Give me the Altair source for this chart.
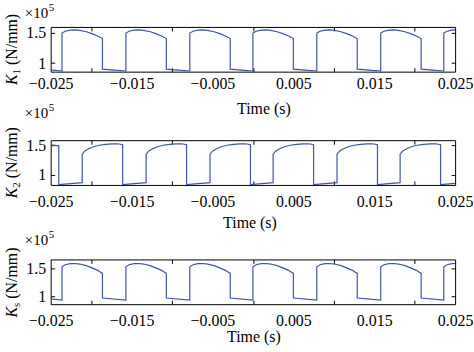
import altair as alt
import pandas as pd

SERIF = "Liberation Serif"
BLUE = "#3c55a5"

# ---- tick values ----
X_ALL = [-0.025, -0.02, -0.015, -0.01, -0.005, 0.0, 0.005, 0.01, 0.015, 0.02, 0.025]
X_MAJOR = [-0.02, -0.01, 0.0, 0.01, 0.02]
Y_TICKS = [1, 1.5]

# ---- K1 (x1e5 N/mm) ----
k1_t = [
    -0.0250,
    -0.0236, -0.0236, -0.0232, -0.0226, -0.0220, -0.0214, -0.0206, -0.0199, -0.0192, -0.0186, -0.0186,
    -0.0157, -0.0157, -0.0153, -0.0147, -0.0141, -0.0135, -0.0127, -0.0120, -0.0113, -0.0107, -0.0107,
    -0.0078, -0.0078, -0.0074, -0.0068, -0.0062, -0.0056, -0.0048, -0.0041, -0.0034, -0.0028, -0.0028,
    0.0000, 0.0000, 0.0004, 0.0010, 0.0016, 0.0022, 0.0030, 0.0037, 0.0044, 0.0050, 0.0050,
    0.0079, 0.0079, 0.0083, 0.0089, 0.0095, 0.0101, 0.0109, 0.0116, 0.0123, 0.0129, 0.0129,
    0.0158, 0.0158, 0.0162, 0.0168, 0.0174, 0.0180, 0.0188, 0.0195, 0.0202, 0.0208, 0.0208,
    0.0236, 0.0236, 0.0240, 0.0246, 0.0250,
]
k1_v = [
    0.89,
    0.87, 1.49, 1.52, 1.537, 1.541, 1.535, 1.512, 1.48, 1.443, 1.40, 0.90,
    0.87, 1.49, 1.52, 1.537, 1.541, 1.535, 1.512, 1.48, 1.443, 1.40, 0.90,
    0.87, 1.49, 1.52, 1.537, 1.541, 1.535, 1.512, 1.48, 1.443, 1.40, 0.90,
    0.87, 1.49, 1.52, 1.537, 1.541, 1.535, 1.512, 1.48, 1.443, 1.40, 0.90,
    0.87, 1.49, 1.52, 1.537, 1.541, 1.535, 1.512, 1.48, 1.443, 1.40, 0.90,
    0.87, 1.49, 1.52, 1.537, 1.541, 1.535, 1.512, 1.48, 1.443, 1.40, 0.90,
    0.87, 1.49, 1.52, 1.537, 1.541,
]

# ---- K2 ----
k2_t = [
    -0.0250, -0.0240, -0.0240,
    -0.0211, -0.0211, -0.0208, -0.0203, -0.0197, -0.0190, -0.0182, -0.0174, -0.0167, -0.0161, -0.0161,
    -0.0132, -0.0132, -0.0129, -0.0124, -0.0118, -0.0111, -0.0103, -0.0095, -0.0088, -0.0082, -0.0082,
    -0.0053, -0.0053, -0.0050, -0.0045, -0.0039, -0.0032, -0.0024, -0.0016, -0.0009, -0.0003, -0.0003,
    0.0025, 0.0025, 0.0028, 0.0033, 0.0039, 0.0046, 0.0054, 0.0062, 0.0069, 0.0075, 0.0075,
    0.0104, 0.0104, 0.0107, 0.0112, 0.0118, 0.0125, 0.0133, 0.0141, 0.0148, 0.0154, 0.0154,
    0.0182, 0.0182, 0.0185, 0.0190, 0.0196, 0.0203, 0.0211, 0.0219, 0.0226, 0.0232, 0.0232,
    0.0250,
]
k2_v = [
    1.505, 1.49, 0.835,
    0.868, 1.35, 1.40, 1.44, 1.475, 1.50, 1.515, 1.524, 1.525, 1.51, 0.835,
    0.868, 1.35, 1.40, 1.44, 1.475, 1.50, 1.515, 1.524, 1.525, 1.51, 0.835,
    0.868, 1.35, 1.40, 1.44, 1.475, 1.50, 1.515, 1.524, 1.525, 1.51, 0.835,
    0.868, 1.35, 1.40, 1.44, 1.475, 1.50, 1.515, 1.524, 1.525, 1.51, 0.835,
    0.868, 1.35, 1.40, 1.44, 1.475, 1.50, 1.515, 1.524, 1.525, 1.51, 0.835,
    0.868, 1.35, 1.40, 1.44, 1.475, 1.50, 1.515, 1.524, 1.525, 1.51, 0.835,
    0.855,
]

# ---- Ks (same switching instants as K1) ----
ks_t = list(k1_t)
ks_v = [
    0.955,
    0.935, 1.53, 1.565, 1.585, 1.588, 1.578, 1.55, 1.51, 1.465, 1.41, 0.97,
    0.935, 1.53, 1.565, 1.585, 1.588, 1.578, 1.55, 1.51, 1.465, 1.41, 0.97,
    0.935, 1.53, 1.565, 1.585, 1.588, 1.578, 1.55, 1.51, 1.465, 1.41, 0.97,
    0.935, 1.53, 1.565, 1.585, 1.588, 1.578, 1.55, 1.51, 1.465, 1.41, 0.97,
    0.935, 1.53, 1.565, 1.585, 1.588, 1.578, 1.55, 1.51, 1.465, 1.41, 0.97,
    0.935, 1.53, 1.565, 1.585, 1.588, 1.578, 1.55, 1.51, 1.465, 1.41, 0.97,
    0.935, 1.53, 1.565, 1.585, 1.588,
]

W, H = 407, 45
one = pd.DataFrame({"a": [0]})


def txt(text, x, y, size=16, style="normal", angle=0):
    return alt.Chart(one).mark_text(
        text=text, font=SERIF, fontSize=size, fontStyle=style, angle=angle,
        align="left", baseline="alphabetic", color="black"
    ).encode(x=alt.value(x), y=alt.value(y))


def panel(t, v, dom, sub, sub_w, lab_pad, title_x, title_y, x10_y):
    df = pd.DataFrame({"t": t, "v": v, "i": list(range(len(t)))})
    xs = alt.Scale(domain=[-0.025, 0.025], nice=False, zero=False)
    ys = alt.Scale(domain=dom, nice=False, zero=False)
    main = alt.Chart(df).mark_line(color=BLUE, strokeWidth=1.2, clip=True).encode(
        x=alt.X("t:Q", scale=xs, axis=alt.Axis(
            orient="bottom", values=X_ALL, offset=-4, tickSize=4, domain=False, grid=False,
            labelExpr="abs(round(datum.value*1000)) % 10 == 5 ? format(datum.value, '.3f') : ''",
            tickOpacity={"condition": {"test": "abs(round(datum.value*1000)) % 10 == 0", "value": 1}, "value": 0},
            labelPadding=lab_pad, labelOverlap=False, labelFlush=False,
            title="Time (s)", titleX=title_x, titleY=title_y, titleBaseline="alphabetic")),
        y=alt.Y("v:Q", scale=ys, axis=alt.Axis(
            orient="left", values=Y_TICKS, offset=-4, tickSize=4, domain=False, grid=False,
            format="~g", labelPadding=5, labelFlush=False, title=None)),
        order="i:Q",
    )
    frame = alt.Chart(df).mark_line(strokeOpacity=0).encode(
        x=alt.X("t:Q", scale=xs, axis=alt.Axis(
            orient="top", values=X_MAJOR, offset=-4, tickSize=4, domain=False, grid=False,
            labels=False, title=None)),
        y=alt.Y("v:Q", scale=ys, axis=alt.Axis(
            orient="right", values=Y_TICKS, offset=-4, tickSize=4, domain=False, grid=False,
            labels=False, title=None)),
    )
    y0 = H / 2 + 36
    texts = [
        txt("K", -34, y0, 16, "italic", 270),
        txt(sub, -31, y0 - 10.7, 11, "normal", 270),
        txt("(N/mm)", -34, y0 - 10.7 - sub_w - 4, 16, "normal", 270),
        txt("×10", -26, x10_y, 15),
        txt("5", -2, x10_y - 7, 11),
    ]
    return alt.layer(main, frame, *texts).resolve_axis(
        x="independent", y="independent").properties(width=W, height=H)


p1 = panel(k1_t, k1_v, [0.86, 1.59], "1", 5.5, 4.4, 214, 46, -9)
p2 = panel(k2_t, k2_v, [0.83, 1.585], "2", 5.5, 9, 200, 47, -22)
p3 = panel(ks_t, ks_v, [0.86, 1.66], "s", 4.3, 8.4, 204, 42, -14.5)

inner = alt.vconcat(p2, p3, spacing=75, bounds="flush")
chart = alt.vconcat(p1, inner, spacing=69, bounds="flush").properties(
    padding={"left": 3, "top": 0, "right": 0, "bottom": 0}
).configure_view(stroke="black", strokeWidth=1).configure_axis(
    labelFont=SERIF, labelFontSize=16, labelColor="black",
    titleFont=SERIF, titleFontSize=16, titleFontWeight="normal", titleColor="black",
    tickColor="black", tickWidth=1,
)

chart.save("out.html", embed_options={"renderer": "svg", "actions": False})
